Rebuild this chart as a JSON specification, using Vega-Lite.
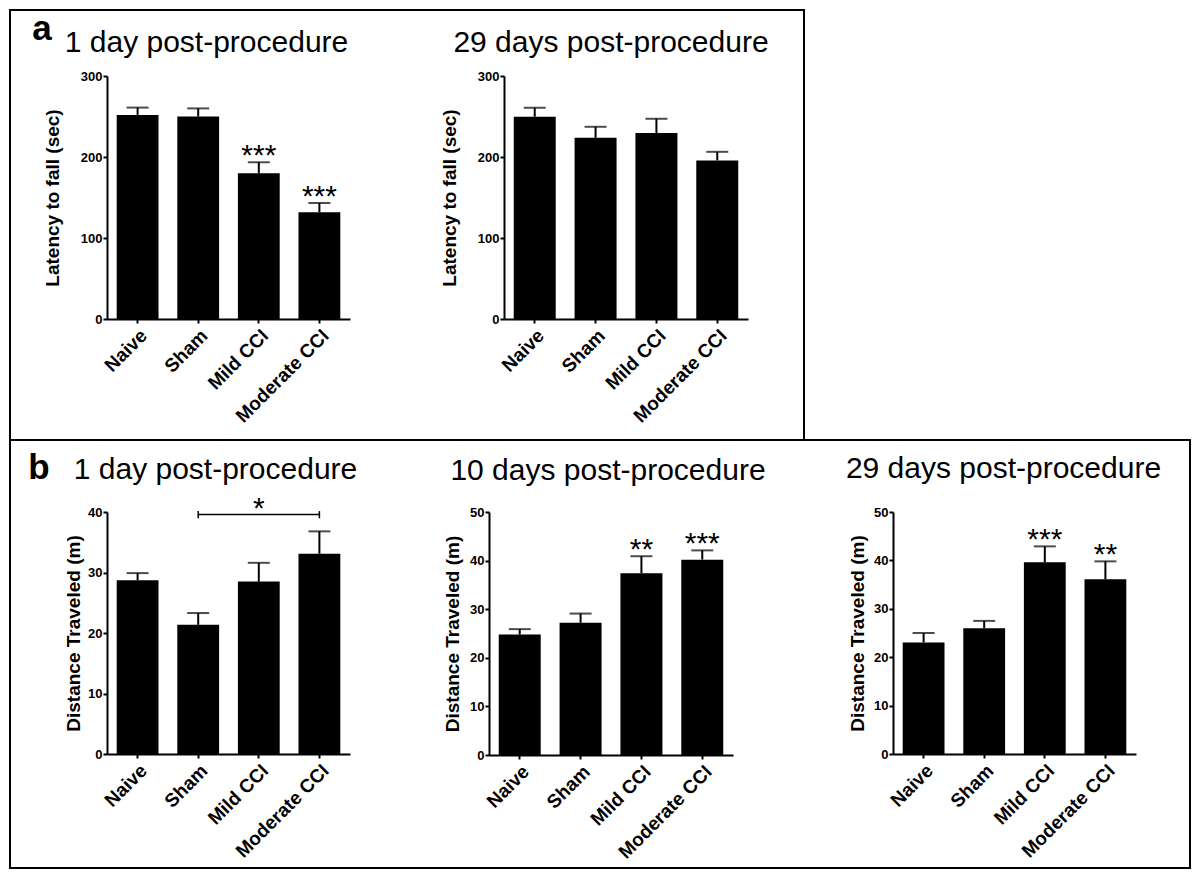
{
  "$schema": "https://vega.github.io/schema/vega-lite/v6.json",
  "padding": {"left": 9, "top": 9, "right": 0, "bottom": 0},
  "background": "white",
  "config": {
    "view": {"stroke": null},
    "axis": {"domainColor": "black", "domainWidth": 2, "tickColor": "black", "tickWidth": 2, "tickSize": 4, "labelColor": "black", "labelFont": "Liberation Sans", "labelFontWeight": "bold", "titleFont": "Liberation Sans", "titleFontWeight": "bold", "titleColor": "black", "grid": false},
    "axisY": {"labelFontSize": 13, "titleFontSize": 19, "labelPadding": 1},
    "axisX": {"labelAngle": -45, "labelFontSize": 19, "labelPadding": 3},
    "title": {"font": "Liberation Sans", "fontSize": 30, "fontWeight": "normal", "color": "black", "anchor": "middle", "frame": "group", "baseline": "alphabetic"}
  },
  "spacing": 0,
  "align": "each",
  "vconcat": [
    {"width": 796, "height": 2, "data": {"values": []}, "mark": "rect", "encoding": {}, "view": {"fill": "black", "stroke": null}},
    {
      "columns": 8, "spacing": 0, "bounds": "flush", "align": "each",
      "concat": [
        {"width": 2, "height": 65, "data": {"values": []}, "mark": "rect", "encoding": {}, "view": {"fill": "black", "stroke": null}},
        {"width": 62, "height": 65, "data": {"values": [{"t": "a"}]}, "mark": {"type": "text", "font": "Liberation Sans", "fontSize": 35, "fontWeight": "bold", "baseline": "alphabetic", "align": "center", "dy": -3.5, "color": "black"}, "encoding": {"text": {"field": "t"}}},
        {"width": 1, "height": 1, "data": {"values": []}, "mark": "rect", "encoding": {}},
        {"width": 1, "height": 1, "data": {"values": []}, "mark": "rect", "encoding": {}},
        {"width": 1, "height": 1, "data": {"values": []}, "mark": "rect", "encoding": {}},
        {"width": 1, "height": 1, "data": {"values": []}, "mark": "rect", "encoding": {}},
        {"width": 1, "height": 1, "data": {"values": []}, "mark": "rect", "encoding": {}},
        {"width": 2, "height": 65, "data": {"values": []}, "mark": "rect", "encoding": {}, "view": {"fill": "black", "stroke": null}},

        {"width": 2, "height": 363, "data": {"values": []}, "mark": "rect", "encoding": {}, "view": {"fill": "black", "stroke": null}},
        {"width": 1, "height": 1, "data": {"values": []}, "mark": "rect", "encoding": {}},
        {"width": 34, "height": 1, "data": {"values": []}, "mark": "rect", "encoding": {}},
        {
          "width": 243, "height": 243,
          "title": {"text": "1 day post-procedure", "dx": -22, "offset": 12},
          "data": {"values": [
            {"group": "Naive", "mean": 252, "upper": 261, "sig": ""},
            {"group": "Sham", "mean": 250, "upper": 260, "sig": ""},
            {"group": "Mild CCI", "mean": 180, "upper": 193.5, "sig": "***"},
            {"group": "Moderate CCI", "mean": 131.7, "upper": 143.2, "sig": "***"}
          ]},
          "encoding": {"x": {"field": "group", "type": "nominal", "sort": ["Naive", "Sham", "Mild CCI", "Moderate CCI"], "title": null, "scale": {"paddingInner": 0.31, "paddingOuter": 0.16}}},
          "layer": [
            {"mark": {"type": "bar", "color": "black"}, "encoding": {"y": {"field": "mean", "type": "quantitative", "title": "Latency to fall (sec)", "scale": {"domain": [0, 300], "nice": false}, "axis": {"values": [0, 100, 200, 300], "titlePadding": 18}}}},
            {"mark": {"type": "rule", "color": "black", "strokeWidth": 2}, "encoding": {"y": {"field": "mean", "type": "quantitative", "title": "Latency to fall (sec)"}, "y2": {"field": "upper"}}},
            {"mark": {"type": "tick", "color": "black", "thickness": 2, "size": 22}, "encoding": {"y": {"field": "upper", "type": "quantitative", "title": "Latency to fall (sec)"}}},
            {"mark": {"type": "text", "color": "black", "font": "Liberation Sans", "fontSize": 30, "baseline": "alphabetic", "dy": 3}, "encoding": {"y": {"field": "upper", "type": "quantitative", "title": "Latency to fall (sec)"}, "text": {"field": "sig"}}}
          ]
        },
        {"width": 154, "height": 1, "data": {"values": []}, "mark": "rect", "encoding": {}},
        {
          "width": 244, "height": 243,
          "title": {"text": "29 days post-procedure", "dx": -15, "offset": 12},
          "data": {"values": [
            {"group": "Naive", "mean": 249.7, "upper": 260.8, "sig": ""},
            {"group": "Sham", "mean": 223.7, "upper": 237.3, "sig": ""},
            {"group": "Mild CCI", "mean": 229.5, "upper": 247.2, "sig": ""},
            {"group": "Moderate CCI", "mean": 195.8, "upper": 206.4, "sig": ""}
          ]},
          "encoding": {"x": {"field": "group", "type": "nominal", "sort": ["Naive", "Sham", "Mild CCI", "Moderate CCI"], "title": null, "scale": {"paddingInner": 0.31, "paddingOuter": 0.16}}},
          "layer": [
            {"mark": {"type": "bar", "color": "black"}, "encoding": {"y": {"field": "mean", "type": "quantitative", "title": "Latency to fall (sec)", "scale": {"domain": [0, 300], "nice": false}, "axis": {"values": [0, 100, 200, 300], "titlePadding": 18}}}},
            {"mark": {"type": "rule", "color": "black", "strokeWidth": 2}, "encoding": {"y": {"field": "mean", "type": "quantitative", "title": "Latency to fall (sec)"}, "y2": {"field": "upper"}}},
            {"mark": {"type": "tick", "color": "black", "thickness": 2, "size": 22}, "encoding": {"y": {"field": "upper", "type": "quantitative", "title": "Latency to fall (sec)"}}}
          ]
        },
        {"width": 55, "height": 1, "data": {"values": []}, "mark": "rect", "encoding": {}},
        {"width": 2, "height": 363, "data": {"values": []}, "mark": "rect", "encoding": {}, "view": {"fill": "black", "stroke": null}}
      ]
    },
    {"width": 1182, "height": 2, "data": {"values": []}, "mark": "rect", "encoding": {}, "view": {"fill": "black", "stroke": null}},
    {
      "columns": 10, "spacing": 0, "bounds": "flush", "align": "each",
      "concat": [
        {"width": 2, "height": 71, "data": {"values": []}, "mark": "rect", "encoding": {}, "view": {"fill": "black", "stroke": null}},
        {"width": 56, "height": 71, "data": {"values": [{"t": "b"}]}, "mark": {"type": "text", "font": "Liberation Sans", "fontSize": 35, "fontWeight": "bold", "baseline": "alphabetic", "align": "center", "dy": 2.5, "color": "black"}, "encoding": {"text": {"field": "t"}}},
        {"width": 1, "height": 1, "data": {"values": []}, "mark": "rect", "encoding": {}},
        {"width": 1, "height": 1, "data": {"values": []}, "mark": "rect", "encoding": {}},
        {"width": 1, "height": 1, "data": {"values": []}, "mark": "rect", "encoding": {}},
        {"width": 1, "height": 1, "data": {"values": []}, "mark": "rect", "encoding": {}},
        {"width": 1, "height": 1, "data": {"values": []}, "mark": "rect", "encoding": {}},
        {"width": 1, "height": 1, "data": {"values": []}, "mark": "rect", "encoding": {}},
        {"width": 1, "height": 1, "data": {"values": []}, "mark": "rect", "encoding": {}},
        {"width": 2, "height": 71, "data": {"values": []}, "mark": "rect", "encoding": {}, "view": {"fill": "black", "stroke": null}},

        {"width": 2, "height": 355, "data": {"values": []}, "mark": "rect", "encoding": {}, "view": {"fill": "black", "stroke": null}},
        {"width": 1, "height": 1, "data": {"values": []}, "mark": "rect", "encoding": {}},
        {"width": 40, "height": 1, "data": {"values": []}, "mark": "rect", "encoding": {}},
        {
          "width": 243, "height": 242,
          "title": {"text": "1 day post-procedure", "dx": -13, "offset": 9},
          "data": {"values": [
            {"group": "Naive", "mean": 28.7, "upper": 29.9, "sig": ""},
            {"group": "Sham", "mean": 21.35, "upper": 23.3, "sig": ""},
            {"group": "Mild CCI", "mean": 28.5, "upper": 31.6, "sig": ""},
            {"group": "Moderate CCI", "mean": 33.1, "upper": 36.8, "sig": ""}
          ]},
          "encoding": {"x": {"field": "group", "type": "nominal", "sort": ["Naive", "Sham", "Mild CCI", "Moderate CCI"], "title": null, "scale": {"paddingInner": 0.31, "paddingOuter": 0.16}}},
          "layer": [
            {"mark": {"type": "bar", "color": "black"}, "encoding": {"y": {"field": "mean", "type": "quantitative", "title": "Distance Traveled (m)", "scale": {"domain": [0, 40], "nice": false}, "axis": {"values": [0, 10, 20, 30, 40], "titlePadding": 4}}}},
            {"mark": {"type": "rule", "color": "black", "strokeWidth": 2}, "encoding": {"y": {"field": "mean", "type": "quantitative", "title": "Distance Traveled (m)"}, "y2": {"field": "upper"}}},
            {"mark": {"type": "tick", "color": "black", "thickness": 2, "size": 22}, "encoding": {"y": {"field": "upper", "type": "quantitative", "title": "Distance Traveled (m)"}}},
            {"data": {"values": [{"group": "Sham", "level": 39.57}, {"group": "Moderate CCI", "level": 39.57}]}, "mark": {"type": "line", "color": "black", "strokeWidth": 1.5}, "encoding": {"y": {"field": "level", "type": "quantitative", "title": "Distance Traveled (m)"}}},
            {"data": {"values": [{"group": "Sham", "lo": 38.95, "hi": 40.15}, {"group": "Moderate CCI", "lo": 38.95, "hi": 40.15}]}, "mark": {"type": "rule", "color": "black", "strokeWidth": 1.5}, "encoding": {"y": {"field": "lo", "type": "quantitative", "title": "Distance Traveled (m)"}, "y2": {"field": "hi"}}},
            {"data": {"values": [{"group": "Mild CCI", "level": 39.57, "sig": "*"}]}, "mark": {"type": "text", "color": "black", "font": "Liberation Sans", "fontSize": 30, "baseline": "alphabetic", "dy": 3}, "encoding": {"y": {"field": "level", "type": "quantitative", "title": "Distance Traveled (m)"}, "text": {"field": "sig"}}}
          ]
        },
        {"width": 139, "height": 1, "data": {"values": []}, "mark": "rect", "encoding": {}},
        {
          "width": 244, "height": 243,
          "title": {"text": "10 days post-procedure", "dx": -3, "offset": 20},
          "data": {"values": [
            {"group": "Naive", "mean": 24.8, "upper": 25.9, "sig": ""},
            {"group": "Sham", "mean": 27.2, "upper": 29.1, "sig": ""},
            {"group": "Mild CCI", "mean": 37.4, "upper": 40.9, "sig": "**"},
            {"group": "Moderate CCI", "mean": 40.2, "upper": 42.1, "sig": "***"}
          ]},
          "encoding": {"x": {"field": "group", "type": "nominal", "sort": ["Naive", "Sham", "Mild CCI", "Moderate CCI"], "title": null, "scale": {"paddingInner": 0.31, "paddingOuter": 0.16}}},
          "layer": [
            {"mark": {"type": "bar", "color": "black"}, "encoding": {"y": {"field": "mean", "type": "quantitative", "title": "Distance Traveled (m)", "scale": {"domain": [0, 50], "nice": false}, "axis": {"values": [0, 10, 20, 30, 40, 50], "titlePadding": 7}}}},
            {"mark": {"type": "rule", "color": "black", "strokeWidth": 2}, "encoding": {"y": {"field": "mean", "type": "quantitative", "title": "Distance Traveled (m)"}, "y2": {"field": "upper"}}},
            {"mark": {"type": "tick", "color": "black", "thickness": 2, "size": 22}, "encoding": {"y": {"field": "upper", "type": "quantitative", "title": "Distance Traveled (m)"}}},
            {"mark": {"type": "text", "color": "black", "font": "Liberation Sans", "fontSize": 30, "baseline": "alphabetic", "dy": 3}, "encoding": {"y": {"field": "upper", "type": "quantitative", "title": "Distance Traveled (m)"}, "text": {"field": "sig"}}}
          ]
        },
        {"width": 160, "height": 1, "data": {"values": []}, "mark": "rect", "encoding": {}},
        {
          "width": 243, "height": 242,
          "title": {"text": "29 days post-procedure", "dx": -11, "offset": 22},
          "data": {"values": [
            {"group": "Naive", "mean": 23.05, "upper": 25.0, "sig": ""},
            {"group": "Sham", "mean": 26.0, "upper": 27.5, "sig": ""},
            {"group": "Mild CCI", "mean": 39.6, "upper": 42.9, "sig": "***"},
            {"group": "Moderate CCI", "mean": 36.1, "upper": 39.8, "sig": "**"}
          ]},
          "encoding": {"x": {"field": "group", "type": "nominal", "sort": ["Naive", "Sham", "Mild CCI", "Moderate CCI"], "title": null, "scale": {"paddingInner": 0.31, "paddingOuter": 0.16}}},
          "layer": [
            {"mark": {"type": "bar", "color": "black"}, "encoding": {"y": {"field": "mean", "type": "quantitative", "title": "Distance Traveled (m)", "scale": {"domain": [0, 50], "nice": false}, "axis": {"values": [0, 10, 20, 30, 40, 50], "titlePadding": 6}}}},
            {"mark": {"type": "rule", "color": "black", "strokeWidth": 2}, "encoding": {"y": {"field": "mean", "type": "quantitative", "title": "Distance Traveled (m)"}, "y2": {"field": "upper"}}},
            {"mark": {"type": "tick", "color": "black", "thickness": 2, "size": 22}, "encoding": {"y": {"field": "upper", "type": "quantitative", "title": "Distance Traveled (m)"}}},
            {"mark": {"type": "text", "color": "black", "font": "Liberation Sans", "fontSize": 30, "baseline": "alphabetic", "dy": 3}, "encoding": {"y": {"field": "upper", "type": "quantitative", "title": "Distance Traveled (m)"}, "text": {"field": "sig"}}}
          ]
        },
        {"width": 53, "height": 1, "data": {"values": []}, "mark": "rect", "encoding": {}},
        {"width": 2, "height": 355, "data": {"values": []}, "mark": "rect", "encoding": {}, "view": {"fill": "black", "stroke": null}}
      ]
    },
    {"width": 1182, "height": 2, "data": {"values": []}, "mark": "rect", "encoding": {}, "view": {"fill": "black", "stroke": null}}
  ]
}
